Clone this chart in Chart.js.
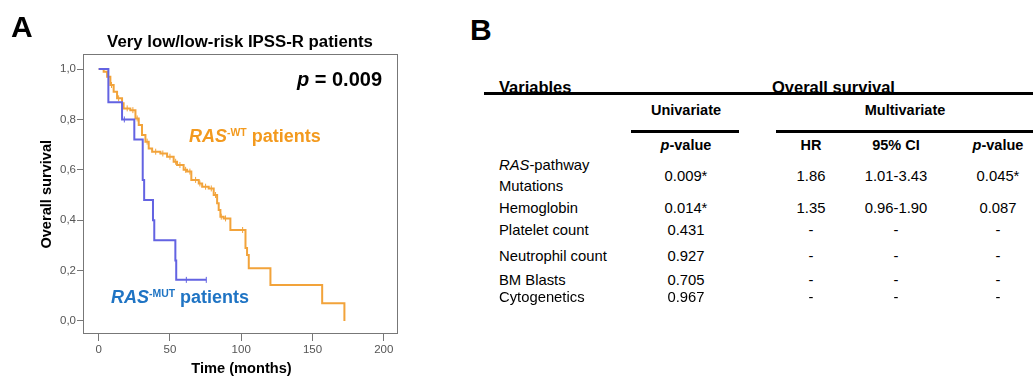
<!DOCTYPE html>
<html>
<head>
<meta charset="utf-8">
<script src="https://cdn.jsdelivr.net/npm/chart.js@4.4.1/dist/chart.umd.min.js"></script>
<style>
  body { margin: 0; width: 1033px; height: 376px; background: #fff; position: relative; overflow: hidden;
         font-family: "Liberation Sans", Arial, sans-serif; color: #000; }
  .t { position: absolute; line-height: 1; white-space: nowrap; }
  .b { font-weight: bold; }
  .rule { position: absolute; background: #000; height: 3px; }
  sup { font-size: 0.58em; line-height: 0; vertical-align: 0.62em; }
  #km { position: absolute; left: 0; top: 0; }
</style>
</head>
<body>
<canvas id="km" width="430" height="376"></canvas>
<script>
// Kaplan-Meier steps (time in months, survival after the event)
const wtTime = [0, 3.5, 5.9, 8.2, 10.5, 12.9, 16.4, 17.5, 22.2, 25.8, 28.1, 30.4, 32.8, 35.1, 37.5, 43.3, 48.0, 52.6, 55.0, 59.6, 62.0, 65.0, 70.2, 72.6, 77.2, 80.7, 83.1, 84.2, 85.4, 87.7, 92.4, 103.0, 104.1, 105.3, 120.5, 156.8, 172.4];
const wtSurv = [1.0, 0.99, 0.97, 0.937, 0.91, 0.884, 0.864, 0.844, 0.837, 0.804, 0.778, 0.738, 0.712, 0.685, 0.672, 0.665, 0.652, 0.632, 0.619, 0.6, 0.593, 0.56, 0.546, 0.533, 0.526, 0.5, 0.467, 0.44, 0.414, 0.407, 0.361, 0.29, 0.262, 0.209, 0.143, 0.07, 0.0];
const mutTime = [0, 6.8, 16.4, 25.0, 30.9, 31.9, 38.1, 39.0, 53.8, 54.4, 75.5];
const mutSurv = [1.0, 0.868, 0.80, 0.72, 0.56, 0.48, 0.40, 0.32, 0.24, 0.163, 0.163];

// censored observations (the little ticks on the curves)
const wtCensor = [9, 14, 20, 24, 27, 34, 40, 45, 50, 54, 57, 61, 64, 68, 71, 75, 79, 82, 86, 89, 101];
const mutCensor = [18, 61.5, 75.5];

const xTicks = [0, 50, 100, 150, 200];
const yTicks = [0, 0.2, 0.4, 0.6, 0.8, 1.0];

// panel B table
const rowNames = ['<i>RAS</i>-pathway', 'Hemoglobin', 'Platelet count', 'Neutrophil count', 'BM Blasts', 'Cytogenetics'];
const uniP = ['0.009*', '0.014*', '0.431', '0.927', '0.705', '0.967'];
const multiHR = ['1.86', '1.35', '-', '-', '-', '-'];
const multiCI = ['1.01-3.43', '0.96-1.90', '-', '-', '-', '-'];
const multiP = ['0.045*', '0.087', '-', '-', '-', '-'];

const orange = '#F2A33A';
const blue = '#6363E2';

// survival level at time t (step function lookup)
let stepAt = (times, surv, t) => {
  let s = surv[0];
  times.forEach((tt, i) => { if (tt <= t) s = surv[i]; });
  return s;
};
let pts = (times, surv) => times.map((t, i) => ({ x: t, y: surv[i] }));

// text helper, y is the baseline
let put = (html, x, y, size, cls, align, color) => {
  let d = document.createElement('div');
  d.className = 't ' + (cls || '');
  d.innerHTML = html;
  d.style.fontSize = size + 'px';
  d.style.top = (y - 0.8465 * size) + 'px';
  if (align === 'center') { d.style.left = (x - 150) + 'px'; d.style.width = '300px'; d.style.textAlign = 'center'; }
  else if (align === 'right') { d.style.left = (x - 300) + 'px'; d.style.width = '300px'; d.style.textAlign = 'right'; }
  else d.style.left = x + 'px';
  if (color) d.style.color = color;
  document.body.appendChild(d);
  return d;
};
let rule = (x, y, w) => {
  let d = document.createElement('div');
  d.className = 'rule';
  d.style.left = x + 'px'; d.style.top = y + 'px'; d.style.width = w + 'px';
  document.body.appendChild(d);
};

// ---- panel A texts
put('A', 11, 37.5, 30, 'b');
put('Very low/low-risk IPSS-R patients', 240, 48.7, 16.8, 'b', 'center');
put('<i>p</i> = 0.009', 382, 86, 20, 'b', 'right');
put('<i>RAS</i><sup>-WT</sup> patients', 189, 142.7, 18, 'b', 'left', '#F39A1E');
put('<i>RAS</i><sup>-MUT</sup> patients', 111, 303.3, 18, 'b', 'left', '#1F74C4');
put('Time (months)', 241.5, 373.5, 14.6, 'b', 'center');
let yt = put('Overall survival', 46, 194 + 0.35 * 14.6, 14.6, 'b', 'center');
yt.style.transformOrigin = '150px ' + (0.8465 * 14.6 - 0.35 * 14.6) + 'px';
yt.style.transform = 'rotate(-90deg)';

// ---- panel B table
put('B', 470, 40, 30, 'b');
put('Variables', 499, 92.5, 16.5, 'b');
put('Overall survival', 772, 92.5, 16.5, 'b');
rule(484, 92, 549);
put('Univariate', 686, 115, 14.5, 'b', 'center');
put('Multivariate', 905, 115, 14.5, 'b', 'center');
rule(631, 130, 108);
rule(776, 130, 257);
put('<i>p</i>-value', 686, 150, 14.5, 'b', 'center');
put('HR', 811, 150, 14.5, 'b', 'center');
put('95% CI', 896, 150, 14.5, 'b', 'center');
put('<i>p</i>-value', 998, 150, 14.5, 'b', 'center');

const nameY = [170.5, 214, 236, 262, 286, 303];
const valueY = [181.5, 214, 236, 262, 286, 303];
rowNames.forEach((n, i) => {
  put(n, 499, nameY[i], 14.8);
  put(uniP[i], 686, valueY[i], 14.8, '', 'center');
  put(multiHR[i], 811, valueY[i], 14.8, '', 'center');
  put(multiCI[i], 896, valueY[i], 14.8, '', 'center');
  put(multiP[i], 998, valueY[i], 14.8, '', 'center');
});
put('Mutations', 499, 191.5, 14.8);

// ---- panel A chart
const boxPlugin = {
  id: 'box',
  beforeDatasetsDraw(chart) {
    let a = chart.chartArea, ctx = chart.ctx;
    ctx.save();
    ctx.strokeStyle = '#777';
    ctx.lineWidth = 1;
    ctx.strokeRect(Math.round(a.left) + 0.5, Math.round(a.top) + 0.5, Math.round(a.width) - 1, Math.round(a.height) - 1);
    ctx.restore();
  }
};

const tickFont = { family: '"Liberation Sans", Arial, sans-serif', size: 11.5 };

new Chart(document.getElementById('km'), {
  type: 'line',
  data: {
    datasets: [
      { data: pts(mutTime, mutSurv), stepped: 'before', borderColor: blue, borderWidth: 2, pointRadius: 0, fill: false },
      { data: mutCensor.map(t => ({ x: t, y: stepAt(mutTime, mutSurv, t) })), showLine: false, pointStyle: 'line', rotation: 90,
        pointRadius: 3, borderColor: blue, borderWidth: 1 },
      { data: pts(wtTime, wtSurv), stepped: 'before', borderColor: orange, borderWidth: 2, pointRadius: 0, fill: false },
      { data: wtCensor.map(t => ({ x: t, y: stepAt(wtTime, wtSurv, t) })), showLine: false, pointStyle: 'line', rotation: 90,
        pointRadius: 3, borderColor: orange, borderWidth: 1 }
    ]
  },
  options: {
    responsive: false,
    animation: false,
    devicePixelRatio: 1,
    layout: { padding: { left: 0, top: 54, right: 32, bottom: 0 } },
    plugins: { legend: { display: false }, tooltip: { enabled: false } },
    scales: {
      x: {
        type: 'linear', min: -11, max: 210,
        afterBuildTicks: s => { s.ticks = xTicks.map(v => ({ value: v })); },
        afterFit: s => { s.height = 42; },
        grid: { drawOnChartArea: false, drawTicks: true, tickLength: 7, color: '#777' },
        border: { display: false },
        ticks: { font: tickFont, color: '#555', padding: 2, maxRotation: 0 }
      },
      y: {
        type: 'linear', min: -0.052, max: 1.06,
        afterBuildTicks: s => { s.ticks = yTicks.map(v => ({ value: v })); },
        afterFit: s => { s.width = 83; },
        grid: { drawOnChartArea: false, drawTicks: true, tickLength: 6, color: '#777' },
        border: { display: false },
        ticks: { font: tickFont, color: '#555', padding: 1, callback: v => v.toFixed(1).replace('.', ',') }
      }
    }
  },
  plugins: [boxPlugin]
});
</script>
</body>
</html>
